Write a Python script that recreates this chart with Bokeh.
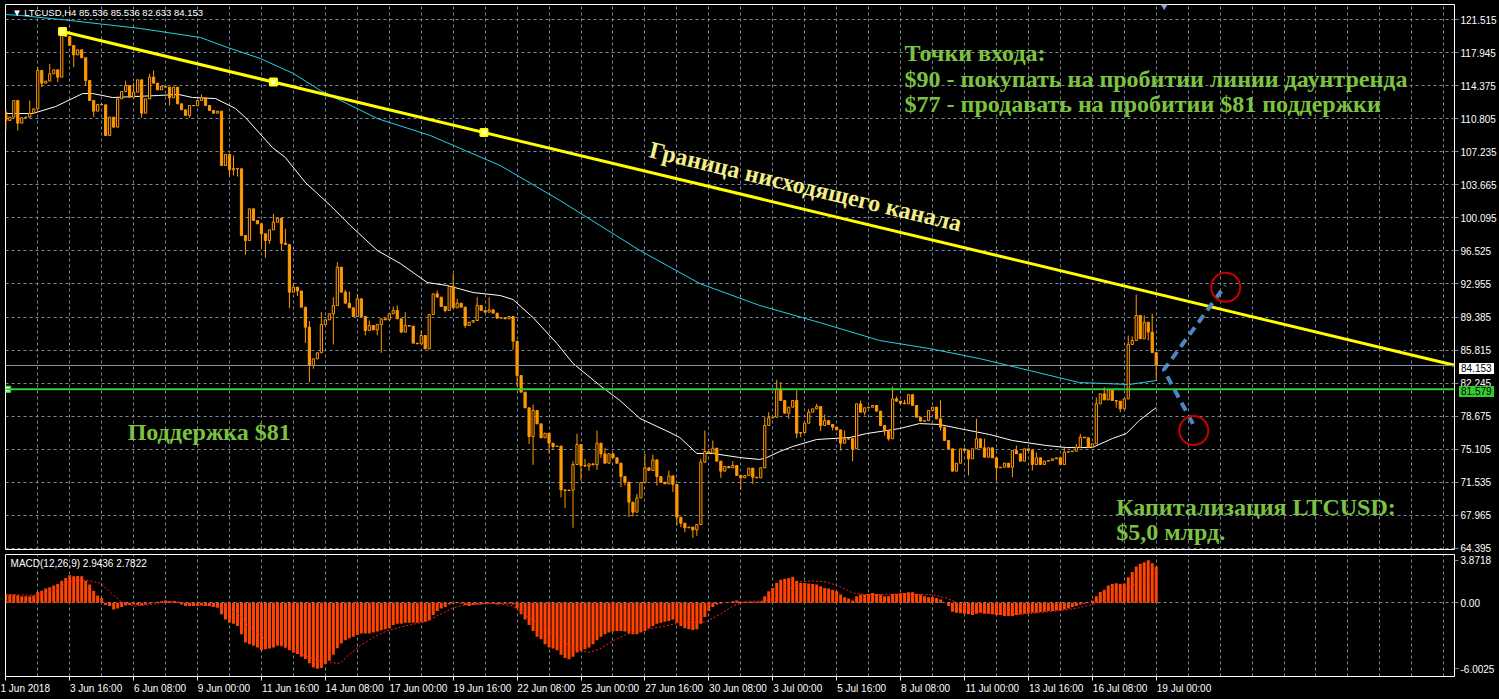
from bokeh.plotting import figure
from bokeh.layouts import column
from bokeh.models import (Range1d, FixedTicker, Span, NumeralTickFormatter, Div,
                          CustomJSTickFormatter, GlobalInlineStyleSheet)
from bokeh.core.properties import value
from bokeh.embed import file_html
from bokeh.resources import INLINE

# ---------------- data (H4 bars, LTCUSD, 1 Jun 2018 00:00 = bar 0) ----------------
first_open = 111.50
closes = [
    110.61, 110.97, 112.77, 110.32, 110.90, 110.97, 111.40, 111.87, 116.01, 114.64,
    114.86, 115.65, 116.08, 115.29, 120.15, 119.68, 118.71, 117.70, 118.24, 117.38,
    114.93, 112.77, 111.62, 112.34, 112.30, 108.99, 110.97, 109.89, 112.95, 113.74,
    114.39, 113.13, 113.67, 115.00, 111.40, 112.95, 115.29, 114.64, 113.92, 114.28,
    114.21, 113.06, 114.21, 112.41, 111.76, 111.15, 112.23, 112.20, 112.77, 113.06,
    112.23, 111.69, 111.40, 111.62, 105.75, 106.94, 105.28, 105.43, 105.39, 98.19,
    97.65, 101.07, 99.81, 99.45, 98.37, 97.65, 98.80, 99.63, 100.06, 97.36,
    97.22, 92.07, 92.61, 92.20, 90.45, 88.29, 84.15, 84.87, 85.52, 88.58,
    89.08, 89.73, 90.63, 94.77, 92.07, 90.88, 90.38, 89.44, 91.35, 89.44,
    87.93, 88.47, 88.00, 88.58, 89.19, 89.08, 89.73, 90.09, 89.19, 87.75,
    88.47, 88.40, 86.56, 86.49, 87.39, 85.95, 89.66, 91.89, 91.53, 90.52,
    90.09, 92.68, 90.38, 90.88, 90.45, 88.47, 88.83, 89.01, 90.63, 90.09,
    89.91, 90.16, 89.80, 89.26, 89.30, 89.19, 89.44, 86.78, 83.07, 81.27,
    79.58, 76.48, 79.29, 77.85, 76.34, 76.84, 75.76, 75.40, 75.45, 70.72,
    70.65, 70.70, 73.46, 75.62, 73.35, 73.28, 73.53, 73.42, 75.76, 74.61,
    73.60, 74.61, 74.18, 73.60, 72.16, 71.55, 69.39, 68.31, 69.86, 71.51,
    73.10, 72.81, 73.96, 72.16, 71.55, 71.37, 72.23, 71.30, 67.77, 67.12,
    66.62, 66.70, 66.40, 66.98, 73.71, 74.86, 74.68, 75.22, 73.82, 72.74,
    73.24, 73.10, 73.35, 72.27, 72.02, 72.27, 73.06, 72.09, 72.02, 73.10,
    77.67, 78.50, 78.57, 81.63, 80.37, 79.00, 79.65, 80.37, 76.84, 76.91,
    77.92, 79.11, 79.47, 79.72, 77.67, 78.21, 77.78, 77.49, 77.20, 75.76,
    76.20, 76.25, 75.15, 80.01, 79.11, 79.58, 79.65, 79.83, 79.22, 77.67,
    77.13, 76.23, 80.55, 80.30, 80.08, 80.01, 81.00, 79.83, 78.57, 78.14,
    78.20, 79.29, 79.65, 78.39, 77.49, 76.05, 75.15, 72.74, 73.60, 75.15,
    74.97, 74.07, 75.15, 76.23, 75.26, 74.25, 75.26, 74.18, 73.10, 73.17,
    73.60, 73.17, 74.97, 74.61, 73.82, 75.15, 74.97, 73.46, 74.18, 73.46,
    73.82, 73.89, 74.07, 74.18, 73.46, 74.79, 74.85, 74.90, 75.33, 76.41,
    76.34, 75.33, 75.69, 80.01, 81.09, 80.44, 81.52, 80.37, 80.30, 79.47,
    80.55, 86.42, 86.85, 89.55, 87.03, 88.83, 87.75, 85.536, 84.153,
]
# visible wick lengths above / below the candle body (price units)
upper_wicks = {0: 0.3, 6: 1.37, 8: 0.36, 11: 1.08, 14: 0.25, 30: 0.54, 32: 1.0, 36: 0.36,
               37: 0.72, 49: 0.36, 57: 1.4, 67: 0.9, 70: 1.55, 72: 0.36, 76: 0.65, 79: 1.33,
               82: 0.9, 83: 0.54, 85: 0.25, 86: 1.26, 88: 0.54, 91: 0.54, 97: 0.43, 98: 0.54,
               100: 1.44, 104: 0.54, 108: 0.36, 112: 1.37, 113: 0.47, 118: 0.9, 121: 1.33,
               132: 0.65, 142: 0.36, 143: 1.15, 145: 0.72, 148: 1.37, 150: 0.65, 158: 0.43,
               160: 1.5, 162: 0.58, 166: 0.58, 174: 0.36, 175: 2.27, 177: 0.83, 182: 0.47,
               190: 0.97, 191: 0.6, 193: 0.97, 194: 0.72, 198: 1.08, 201: 0.36, 203: 0.29,
               205: 0.65, 210: 0.94, 214: 0.36, 222: 1.33, 223: 0.25, 225: 0.36, 234: 2.0,
               243: 2.16, 245: 1.0, 253: 0.54, 258: 0.6, 265: 0.6, 268: 0.36, 269: 0.36,
               273: 0.7, 275: 0.72, 281: 0.97, 282: 0.43, 283: 2.27, 285: 0.72, 287: 2.0}
lower_wicks = {0: 1.08, 3: 0.8, 9: 0.43, 13: 0.54, 17: 1.33, 20: 0.54, 22: 0.65, 34: 0.5,
               41: 0.83, 46: 0.25, 56: 0.6, 57: 0.6, 58: 0.83, 60: 1.55, 64: 1.44, 65: 1.87,
               66: 0.36, 69: 0.8, 71: 1.7, 73: 0.54, 75: 1.7, 76: 1.8, 77: 0.36, 82: 3.3,
               90: 0.54, 93: 0.6, 94: 3.06, 110: 0.2, 115: 0.29, 127: 0.94, 128: 1.19,
               131: 0.8, 132: 3.06, 136: 1.08, 137: 0.25, 139: 0.8, 140: 1.9, 142: 4.07,
               144: 1.62, 146: 0.5, 148: 0.54, 149: 0.43, 154: 1.15, 155: 0.36, 156: 1.62,
               157: 0.47, 163: 0.97, 167: 0.83, 168: 0.9, 169: 0.43, 170: 0.47, 172: 0.86,
               173: 0.65, 179: 0.72, 184: 1.3, 187: 0.72, 196: 0.6, 198: 0.54, 199: 0.43,
               204: 0.6, 207: 0.36, 209: 0.8, 212: 1.33, 215: 0.36, 220: 0.54, 221: 0.2,
               234: 0.36, 241: 1.8, 248: 1.37, 252: 1.08, 257: 0.65, 278: 0.72, 279: 0.36,
               286: 0.9, 288: 1.52}

macd_hist = [
    0.75, 0.75, 0.75, 0.69, 0.60, 0.60, 0.60, 0.66, 0.99, 1.11,
    1.30, 1.42, 1.57, 1.72, 2.02, 2.26, 2.50, 2.41, 2.44, 2.41,
    2.02, 1.66, 1.11, 0.66, 0.45, -0.21, -0.30, -0.60, -0.51, -0.39,
    -0.24, -0.21, -0.15, -0.21, -0.24, -0.15, -0.09, 0.02, 0.09, 0.15,
    0.21, 0.15, 0.15, 0.09, -0.15, -0.30, -0.30, -0.30, -0.30, -0.24,
    -0.30, -0.30, -0.39, -0.45, -1.05, -1.51, -1.81, -1.90, -2.11, -2.86,
    -3.61, -3.77, -3.92, -4.07, -4.31, -4.22, -4.16, -4.07, -3.92, -3.92,
    -4.07, -4.31, -4.52, -4.67, -4.91, -5.12, -5.51, -5.90, -6.00, -5.93,
    -5.57, -5.27, -4.73, -4.13, -3.70, -3.40, -3.22, -3.10, -2.92, -2.80,
    -2.80, -2.80, -2.71, -2.62, -2.50, -2.41, -2.32, -2.02, -1.90, -1.90,
    -1.81, -1.81, -1.81, -1.81, -1.75, -1.72, -1.60, -1.11, -0.75, -0.51,
    -0.39, -0.15, -0.09, 0.02, -0.09, -0.21, -0.30, -0.21, -0.15, -0.15,
    -0.09, -0.09, -0.09, -0.15, -0.09, -0.09, -0.09, -0.15, -0.51, -1.05,
    -1.51, -2.02, -2.56, -3.10, -3.31, -3.77, -4.07, -4.16, -4.31, -4.73,
    -5.03, -5.15, -4.91, -4.52, -4.37, -4.22, -4.07, -3.77, -3.40, -3.10,
    -2.86, -2.71, -2.62, -2.56, -2.56, -2.62, -2.80, -2.86, -2.86, -2.71,
    -2.56, -2.32, -2.11, -1.90, -1.81, -1.72, -1.66, -1.51, -1.81, -2.11,
    -2.32, -2.41, -2.47, -2.41, -1.90, -1.30, -0.75, -0.39, -0.15, -0.09,
    0.02, 0.06, 0.15, 0.21, 0.09, 0.09, 0.09, 0.09, 0.09, 0.15,
    0.60, 1.05, 1.36, 1.81, 2.11, 2.20, 2.26, 2.38, 2.02, 1.81,
    1.81, 1.75, 1.72, 1.66, 1.51, 1.36, 1.30, 1.20, 1.05, 0.75,
    0.51, 0.39, 0.21, 0.60, 0.75, 0.75, 0.81, 0.90, 0.81, 0.75,
    0.60, 0.60, 0.81, 0.81, 0.87, 0.90, 0.96, 0.96, 0.81, 0.75,
    0.60, 0.51, 0.51, 0.45, 0.30, 0.02, -0.30, -0.81, -0.90, -0.96,
    -0.99, -1.05, -1.11, -0.99, -0.90, -0.99, -0.99, -1.05, -1.11, -1.11,
    -1.20, -1.20, -1.20, -1.11, -1.05, -0.99, -0.93, -0.90, -0.90, -0.84,
    -0.81, -0.75, -0.75, -0.69, -0.69, -0.60, -0.51, -0.39, -0.30, -0.15,
    -0.09, 0.02, 0.21, 0.60, 0.99, 1.20, 1.57, 1.72, 1.78, 1.72,
    1.75, 2.32, 2.80, 3.31, 3.55, 3.70, 3.87, 3.61, 3.31,
]
signal_x = [0, 7, 12, 15, 18, 21, 23.75, 26.25, 28.75, 32, 35.4, 38.75, 42, 45.4, 52, 55.4,
            58.75, 62, 65.4, 68.75, 72, 75.4, 78.75, 82, 83.75, 85.4, 88.75, 92, 95.4, 98.75,
            102, 105.4, 108.75, 112, 115.4, 118.75, 123, 127, 130.4, 133.75, 137, 140.4,
            143.75, 146.25, 148.75, 152, 155.4, 158.75, 162, 165.4, 168.75, 172, 175.4,
            178.75, 182, 185.4, 188.75, 192, 195.4, 198.75, 202, 205.4, 208.75, 212, 215.4,
            218.75, 222, 225.4, 228.75, 232, 235.4, 238.75, 242, 245.4, 248.75, 253.75,
            258.75, 263.75, 268.75, 272, 275.4, 278.75, 282, 285.4, 288]
signal_y = [0.75, 0.69, 1.1, 1.8, 2.1, 2.0, 1.8, 0.9, 0.15, -0.3, -0.2, 0.0, 0.15, -0.1, -0.3,
            -0.45, -1.2, -2.56, -3.4, -3.9, -4.37, -4.9, -5.27, -5.48, -5.5, -4.9, -3.9, -3.16,
            -2.56, -2.2, -1.96, -1.66, -1.05, -0.45, -0.15, -0.1, -0.06, -0.3, -1.2, -1.96,
            -2.86, -3.76, -4.37, -4.5, -4.2, -3.46, -2.86, -2.56, -2.3, -2.1, -1.8, -1.8,
            -1.72, -1.05, -0.3, 0.15, 0.15, 0.3, 1.05, 1.9, 2.0, 1.9, 1.5, 0.9, 0.75, 0.75,
            0.8, 0.8, 0.75, 0.75, 0.45, -0.1, -0.7, -0.9, -1.0, -1.05, -0.9, -0.7, -0.45,
            -0.15, 0.3, 0.9, 1.5, 2.26, 2.78]

ma_slow_x = [0, 3.75, 16.25, 33.75, 48.75, 55.5, 63.75, 72, 78.75, 93, 106.25, 123.75, 138.75,
             158.75, 173.75, 188.75, 203.75, 218.75, 231.25, 243.75, 256.25, 268.75, 281.25, 288]
ma_slow_y = [122.05, 121.95, 121.4, 120.54, 119.57, 118.49, 117.3, 115.68, 113.85, 110.82,
             108.99, 105.75, 101.97, 96.57, 93.0, 90.63, 88.79, 86.85, 85.98, 84.9, 83.61,
             82.31, 82.1, 82.53]
ma_fast_x = [0, 6.75, 12.5, 19.25, 21.75, 26.75, 38.25, 43.25, 46.75, 52.5, 57.5, 60, 66.75,
             70, 75, 81.25, 86.25, 93, 98.75, 105.5, 110.5, 117, 123.75, 127, 132, 138, 142,
             148.75, 153.75, 158.75, 166.25, 168.75, 173, 177, 183.75, 188.75, 190.5, 193.75,
             197, 203, 211.25, 215.5, 223.75, 228.75, 233.75, 238.75, 246.25, 252, 260.5,
             265.5, 272, 277, 280.5, 283.75, 288]
ma_fast_y = [111.36, 111.36, 112.12, 113.52, 113.52, 113.09, 113.31, 113.42, 113.09, 112.98,
             111.9, 110.93, 107.69, 106.61, 103.91, 101.43, 99.27, 96.57, 95.17, 93.11, 92.79,
             92.03, 91.71, 91.27, 89.33, 86.52, 84.37, 81.99, 80.37, 78.43, 76.92, 76.37,
             74.65, 74.65, 74.21, 74.0, 74.21, 74.86, 75.4, 76.16, 76.37, 76.8, 77.34, 77.88,
             77.78, 77.34, 76.7, 76.05, 75.51, 75.29, 75.29, 76.26, 76.8, 78.21, 79.61]

trend_x = [14.2, 67.0, 119.7]          # anchors of the down-trend line
trend_y = [120.22, 114.77, 109.31]
support_level = 81.579
last_price = 84.153
scenario_x = [297.2, 289.9, 305.3]     # sell / now / buy scenario
scenario_y = [77.85, 83.68, 92.79]
target_x = [305.4, 297.4]
target_y = [92.6, 77.13]

price_ticks = [121.515, 117.945, 114.375, 110.805, 107.235, 103.665, 100.095, 96.525, 92.955,
               89.385, 85.815, 82.245, 78.675, 75.105, 71.535, 67.965, 64.395]
time_ticks = [0, 16, 32, 48, 64, 80, 96, 112, 128, 144, 160, 176, 192, 208, 224, 240, 256, 272, 288]
time_labels = ["1 Jun 2018", "3 Jun 16:00", "6 Jun 08:00", "9 Jun 00:00", "11 Jun 16:00",
               "14 Jun 08:00", "17 Jun 00:00", "19 Jun 16:00", "22 Jun 08:00", "25 Jun 00:00",
               "27 Jun 16:00", "30 Jun 08:00", "3 Jul 00:00", "5 Jul 16:00", "8 Jul 08:00",
               "11 Jul 00:00", "13 Jul 16:00", "16 Jul 08:00", "19 Jul 00:00"]
macd_ticks = [3.8718, 0.0, -6.0025]

# ---------------- derived OHLC ----------------
n = len(closes)
idx = list(range(n))
opens = [first_open] + closes[:-1]
highs = [max(o, c) + upper_wicks.get(i, 0.0) for i, (o, c) in enumerate(zip(opens, closes))]
lows = [min(o, c) - lower_wicks.get(i, 0.0) for i, (o, c) in enumerate(zip(opens, closes))]
bull = [i for i in idx if closes[i] >= opens[i]]
bear = [i for i in idx if closes[i] < opens[i]]

X_START, X_END = -0.075, 362.675
Y_MIN, Y_MAX = 64.28, 123.135
vgrid = list(range(8, 361, 8))

ORANGE = "#ff9900"
GRID = "#778899"
GREEN_TXT = "#7cc242"
SERIF = value("Liberation Serif")
SANS = value("Liberation Sans")
NBSP = "\u00a0"

# left-align time labels (Bokeh centres them): pad with non-breaking spaces on the left
_em = {" ": 0.278, ":": 0.278, "J": 0.5, "u": 0.556, "n": 0.556, "l": 0.222}
def _left_aligned(s, first=False):
    if first:
        return s
    w = sum(_em.get(ch, 0.556) for ch in s)
    return NBSP * int(round(w / 0.278)) + s

# ---------------- main price panel ----------------
MAIN_TOP, MAIN_H, MAIN_FRAME_H = 4, 554, 545
p = figure(width=1499, height=MAIN_H, x_range=Range1d(X_START, X_END),
           y_range=Range1d(Y_MIN, Y_MAX), y_axis_location="right",
           output_backend="svg", toolbar_location=None,
           background_fill_color="black", border_fill_color="black",
           min_border_left=5, min_border_top=MAIN_TOP, min_border_bottom=5, min_border_right=43)
p.outline_line_color = "white"
p.outline_line_alpha = 1.0
p.xaxis.visible = False
p.xgrid.ticker = FixedTicker(ticks=vgrid)
p.ygrid.ticker = FixedTicker(ticks=price_ticks)
for g in (p.xgrid, p.ygrid):
    g.grid_line_color = GRID
    g.grid_line_dash = "3 3"
    g.grid_line_width = 1
ax = p.yaxis[0]
ax.ticker = FixedTicker(ticks=price_ticks)
ax.formatter = NumeralTickFormatter(format="0.000")
ax.axis_line_color = None
ax.major_tick_line_color = GRID
ax.major_tick_out = 4
ax.major_tick_in = 0
ax.minor_tick_line_color = None
ax.major_label_standoff = 2
ax.major_label_text_color = "white"
ax.major_label_text_font = "Liberation Sans"
ax.major_label_text_font_size = "10px"

# horizontal lines
p.add_layout(Span(location=last_price, dimension="width", line_color="#8a96a3", line_width=1))
p.add_layout(Span(location=support_level, dimension="width", line_color="#33cc33", line_width=2))
p.scatter([X_START + 0.5], [support_level], marker="square", size=6,
          fill_color="white", line_color="#33cc33", line_width=1.5)

# moving averages
p.line(ma_slow_x, ma_slow_y, line_color="#24d0e6", line_width=1)
p.line(ma_fast_x, ma_fast_y, line_color="white", line_width=1)

# candles
p.segment(x0=idx, y0=lows, x1=idx, y1=highs, line_color=ORANGE, line_width=1)
p.vbar(x=bear, top=[opens[i] for i in bear], bottom=[closes[i] for i in bear],
       width=0.55, fill_color=ORANGE, line_color=ORANGE, line_width=1)
p.vbar(x=bull, top=[closes[i] for i in bull], bottom=[opens[i] for i in bull],
       width=0.55, fill_color="black", line_color=ORANGE, line_width=1)

# down-trend line, extended to the right edge
slope = (trend_y[-1] - trend_y[0]) / (trend_x[-1] - trend_x[0])
p.line([trend_x[0], X_END], [trend_y[0], trend_y[0] + slope * (X_END - trend_x[0])],
       line_color="#ffff00", line_width=3)
p.scatter(trend_x, trend_y, marker="square", size=7, fill_color="#ffffb0",
          line_color="#ffff00", line_width=2)

# scenario
p.line(scenario_x, scenario_y, line_color="#4f86c6", line_width=4, line_dash="9 6")
p.scatter(target_x, target_y, marker="circle", size=29, fill_color=None,
          line_color="#c80000", line_width=2)
p.scatter([290], [123.0], marker="inverted_triangle", size=8, fill_color="#8aa0c8",
          line_color=None)

# texts
p.text(x=[1.6], y=[122.27], text=["\u25bc LTCUSD,H4  85.536 85.536 82.633 84.153"],
       text_color="white", text_font=SANS, text_font_size="9.5px",
       text_baseline="middle", text_align="left")
TXT = dict(text_color=GREEN_TXT, text_font=SERIF, text_font_style="bold",
           text_font_size="24px", text_baseline="middle", text_align="left")
p.text(x=[225.0, 225.0, 225.0], y=[117.95, 115.14, 112.44],
       text=["Точки входа:", "$90 - покупать на пробитии линии даунтренда",
             "$77 - продавать на пробитии $81 поддержки"], **TXT)
p.text(x=[30.5], y=[76.92], text=["Поддержка $81"], **TXT)
p.text(x=[278.0, 278.0], y=[68.92, 66.12], text=["Капитализация LTCUSD:", "$5,0 млрд."], **TXT)
p.text(x=[200.2], y=[103.48], text=["Граница нисходящего канала"], angle=-0.2353,
       text_color="#f2ee8a", text_font=SERIF, text_font_style="bold", text_font_size="24px",
       text_baseline="middle", text_align="center")

# ---------------- MACD panel ----------------
q = figure(width=1499, height=145, x_range=p.x_range, y_range=Range1d(-6.71, 4.40),
           y_axis_location="right", output_backend="svg", toolbar_location=None,
           background_fill_color="black", border_fill_color="black",
           min_border_left=5, min_border_top=0, min_border_bottom=23, min_border_right=43)
q.outline_line_color = "white"
q.outline_line_alpha = 1.0
q.xgrid.ticker = FixedTicker(ticks=vgrid)
q.ygrid.ticker = FixedTicker(ticks=[0])
for g in (q.xgrid, q.ygrid):
    g.grid_line_color = GRID
    g.grid_line_dash = "3 3"
qa = q.yaxis[0]
qa.ticker = FixedTicker(ticks=macd_ticks)
qa.formatter = CustomJSTickFormatter(code="return tick == 0 ? '0.00' : tick.toString();")
qa.axis_line_color = None
qa.major_tick_line_color = GRID
qa.major_tick_out = 4
qa.major_tick_in = 0
qa.minor_tick_line_color = None
qa.major_label_standoff = 2
qa.major_label_text_color = "white"
qa.major_label_text_font = "Liberation Sans"
qa.major_label_text_font_size = "10px"

xa = q.xaxis[0]
xa.ticker = FixedTicker(ticks=time_ticks)
xa.major_label_overrides = {t: _left_aligned(lab, k == 0)
                            for k, (t, lab) in enumerate(zip(time_ticks, time_labels))}
xa.axis_line_color = None
xa.major_tick_line_color = "white"
xa.major_tick_out = 4
xa.major_tick_in = 0
xa.minor_tick_line_color = None
xa.major_label_standoff = 2
xa.major_label_text_color = "white"
xa.major_label_text_font = "Liberation Sans"
xa.major_label_text_font_size = "10px"

q.vbar(x=idx, top=macd_hist, bottom=0, width=0.75, fill_color="#ff4500", line_color=None)
q.line(signal_x, signal_y, line_color="#ff2020", line_width=1, line_dash="2 2")
q.text(x=[1.2], y=[3.59], text=["MACD(12,26,9) 2.9436 2.7822"], text_color="white",
       text_font=SANS, text_font_size="10px", text_baseline="middle", text_align="left")

# ---------------- price tags on the right price scale ----------------
def _price_to_px(v):
    return MAIN_TOP + (Y_MAX - v) / (Y_MAX - Y_MIN) * MAIN_FRAME_H

def _tag(v, bg):
    top = _price_to_px(v) - 5.5
    html = ('<span style="display:inline-block;background:%s;color:#000;'
            'font:10px \'Liberation Sans\',sans-serif;line-height:11px;padding:0 2px;">%.3f</span>'
            % (bg, v))
    return Div(text=html, margin=0,
               styles={"position": "absolute", "left": "1459px", "top": "%.1fpx" % top,
                       "z-index": "10"})

layout = column(p, q, _tag(last_price, "#ffffff"), _tag(support_level, "#33cc33"), spacing=0)
layout.stylesheets = [GlobalInlineStyleSheet(css="html, body { background: #000; }")]

open("out.html", "w").write(file_html(layout, INLINE))
